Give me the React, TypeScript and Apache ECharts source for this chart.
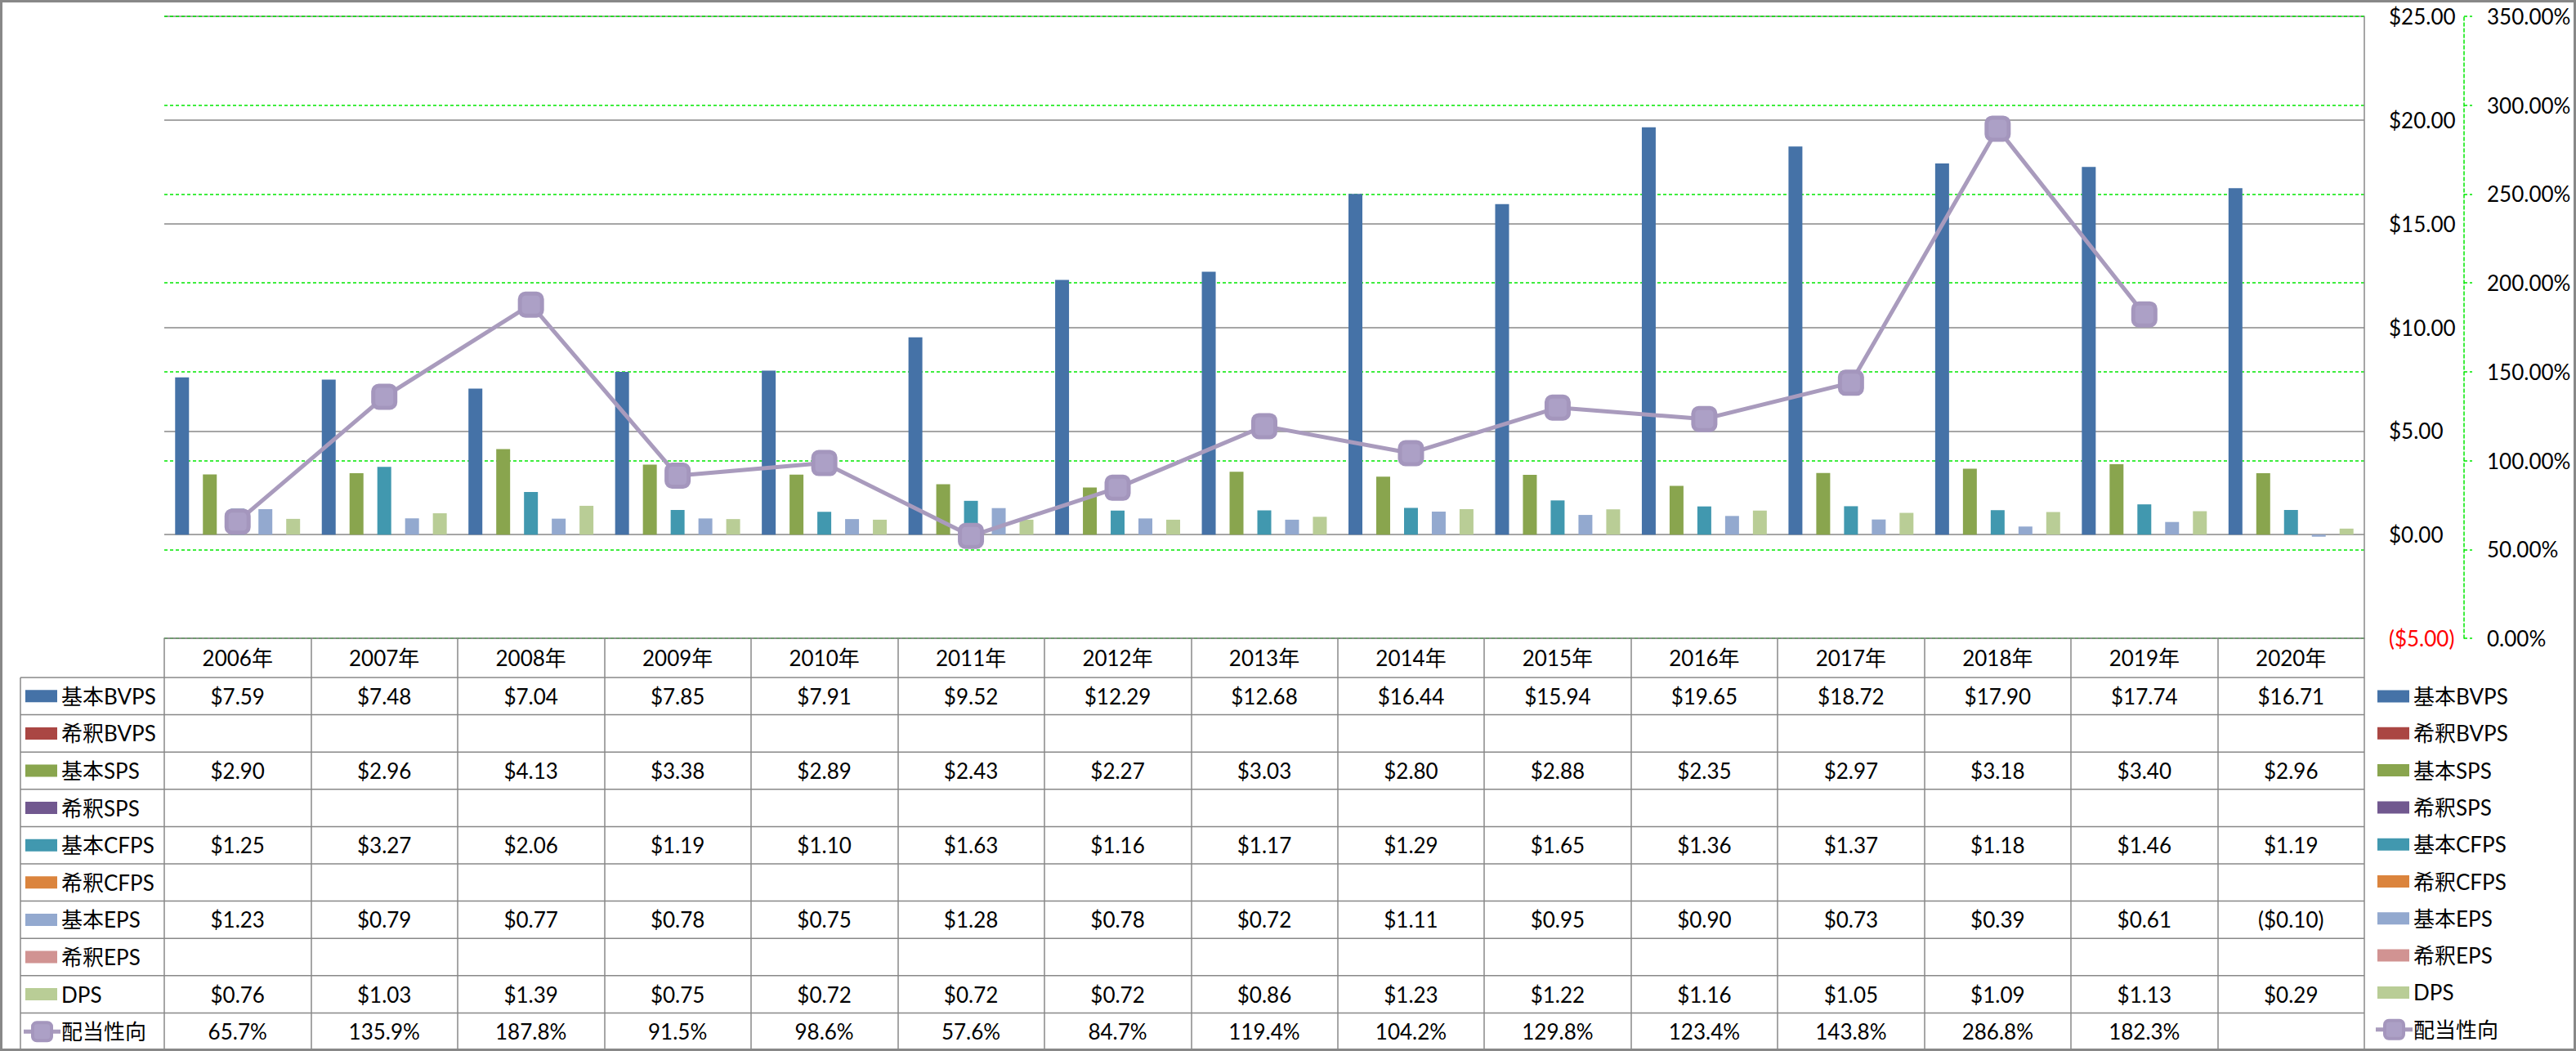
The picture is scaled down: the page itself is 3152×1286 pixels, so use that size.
import React, { useEffect, useRef } from "react";
import * as echarts from "echarts";

const years = ["2006年", "2007年", "2008年", "2009年", "2010年", "2011年", "2012年", "2013年", "2014年", "2015年", "2016年", "2017年", "2018年", "2019年", "2020年"];

const basicBVPS = [7.59, 7.48, 7.04, 7.85, 7.91, 9.52, 12.29, 12.68, 16.44, 15.94, 19.65, 18.72, 17.90, 17.74, 16.71];
const dilutedBVPS = [null, null, null, null, null, null, null, null, null, null, null, null, null, null, null];
const basicSPS = [2.90, 2.96, 4.13, 3.38, 2.89, 2.43, 2.27, 3.03, 2.80, 2.88, 2.35, 2.97, 3.18, 3.40, 2.96];
const dilutedSPS = [null, null, null, null, null, null, null, null, null, null, null, null, null, null, null];
const basicCFPS = [1.25, 3.27, 2.06, 1.19, 1.10, 1.63, 1.16, 1.17, 1.29, 1.65, 1.36, 1.37, 1.18, 1.46, 1.19];
const dilutedCFPS = [null, null, null, null, null, null, null, null, null, null, null, null, null, null, null];
const basicEPS = [1.23, 0.79, 0.77, 0.78, 0.75, 1.28, 0.78, 0.72, 1.11, 0.95, 0.90, 0.73, 0.39, 0.61, -0.10];
const dilutedEPS = [null, null, null, null, null, null, null, null, null, null, null, null, null, null, null];
const dps = [0.76, 1.03, 1.39, 0.75, 0.72, 0.72, 0.72, 0.86, 1.23, 1.22, 1.16, 1.05, 1.09, 1.13, 0.29];
const payoutRatio = [65.7, 135.9, 187.8, 91.5, 98.6, 57.6, 84.7, 119.4, 104.2, 129.8, 123.4, 143.8, 286.8, 182.3, null];

const barNames = ["基本BVPS", "希釈BVPS", "基本SPS", "希釈SPS", "基本CFPS", "希釈CFPS", "基本EPS", "希釈EPS", "DPS"];
const barData = [basicBVPS, dilutedBVPS, basicSPS, dilutedSPS, basicCFPS, dilutedCFPS, basicEPS, dilutedEPS, dps];
const barColors = ["#4572A7", "#AA4643", "#89A54E", "#71588F", "#4198AF", "#DB843D", "#93A9CF", "#D19392", "#B9CD96"];
const lineName = "配当性向";
const lineColor = "#A99BBD";

const W = 3152;
const H = 1286;
const FONT = "Lato, 'Noto Sans CJK JP', sans-serif";
const GRID_LEFT = 201;
const GRID_RIGHT = 2893;
const GRID_TOP = 20;
const GRID_BOTTOM = 781;
const HEADER_BOTTOM = 829;
const TABLE_BOTTOM = 1285;
const TABLE_LEFT = 25;
const GRAY = "#888888";
const GREEN = "#00E800";

function money(v: number | null): string {
  if (v === null || v === undefined) return "";
  const s = "$" + Math.abs(v).toFixed(2);
  return v < 0 ? "(" + s + ")" : s;
}
function pct(v: number | null): string {
  if (v === null || v === undefined) return "";
  return v.toFixed(1) + "%";
}

export default function App() {
  const ref = useRef<HTMLDivElement>(null);
  useEffect(() => {
    if (!ref.current) return;
    const chart = echarts.init(ref.current, null, { renderer: "svg" });
    const series: any[] = barNames.map((name, k) => ({
      name,
      type: "bar",
      data: barData[k],
      yAxisIndex: 0,
      barGap: "0%",
      barCategoryGap: "14.8%",
      itemStyle: { color: barColors[k] },
    }));
    series.push({
      name: lineName,
      type: "line",
      yAxisIndex: 1,
      data: payoutRatio,
      symbol: "roundRect",
      symbolSize: 27,
      lineStyle: { color: lineColor, width: 5 },
      itemStyle: { color: "#ACA0C6", borderColor: "#A496BD", borderWidth: 5 },
      z: 5,
    });
    chart.setOption({
      animation: false,
      backgroundColor: "#FFFFFF",
      grid: { left: GRID_LEFT, right: W - GRID_RIGHT, top: GRID_TOP, bottom: H - GRID_BOTTOM, containLabel: false },
      xAxis: {
        type: "category",
        data: years,
        boundaryGap: true,
        axisLine: { show: true, onZero: false, lineStyle: { color: GRAY, width: 1.5 } },
        axisTick: { show: true, interval: 0, length: TABLE_BOTTOM - GRID_BOTTOM, lineStyle: { color: GRAY, width: 1.5 } },
        axisLabel: { show: true, interval: 0, margin: 24, verticalAlign: "middle", fontSize: 26, fontFamily: FONT, color: "#000" },
        splitLine: { show: false },
      },
      yAxis: [
        {
          type: "value",
          position: "right",
          min: -5,
          max: 25,
          interval: 5,
          axisLine: { show: true, lineStyle: { color: GRAY, width: 1.5 } },
          axisTick: { show: false },
          splitLine: { show: true, lineStyle: { color: GRAY, width: 1.5 } },
          axisLabel: {
            margin: 30,
            fontSize: 26,
            fontFamily: FONT,
            color: "#000",
            formatter: (v: number) => (v < 0 ? "{neg|" + money(v) + "}" : money(v)),
            rich: { neg: { color: "#FF0000", fontSize: 26, fontFamily: FONT } },
          },
        },
        {
          type: "value",
          position: "right",
          offset: 122,
          min: 0,
          max: 350,
          interval: 50,
          axisLine: { show: true, lineStyle: { color: GREEN, width: 1.5, type: [4, 3] } },
          axisTick: { show: true, length: 10, lineStyle: { color: GREEN, width: 1.5, type: [4, 3] } },
          splitLine: { show: true, lineStyle: { color: GREEN, width: 1.5, type: [4, 3] } },
          axisLabel: {
            margin: 28,
            fontSize: 26,
            fontFamily: FONT,
            color: "#000",
            formatter: (v: number) => v.toFixed(2) + "%",
          },
        },
      ],
      series,
    });

    // Data table + legend built from the axis scale
    const rowNames = [...barNames, lineName];
    const rowData: (number | null)[][] = [...barData, payoutRatio];
    const rowColors = [...barColors, lineColor];
    const nRows = rowNames.length;
    const rowH = (TABLE_BOTTOM - HEADER_BOTTOM) / nRows;
    const elements: any[] = [];
    elements.push({ type: "rect", shape: { x: 1.5, y: 1.5, width: W - 3, height: H - 3 }, style: { fill: "none", stroke: GRAY, lineWidth: 3 }, z: 100 });
    elements.push({ type: "line", shape: { x1: TABLE_LEFT, y1: HEADER_BOTTOM, x2: TABLE_LEFT, y2: TABLE_BOTTOM }, style: { stroke: GRAY, lineWidth: 1.5 } });
    for (let r = 0; r <= nRows; r++) {
      const y = HEADER_BOTTOM + r * rowH;
      elements.push({ type: "line", shape: { x1: TABLE_LEFT, y1: y, x2: GRID_RIGHT, y2: y }, style: { stroke: GRAY, lineWidth: 1.5 } });
    }
    const drawKey = (x: number, cy: number, r: number) => {
      if (r === nRows - 1) {
        elements.push({ type: "line", shape: { x1: x - 2, y1: cy, x2: x + 43, y2: cy }, style: { stroke: lineColor, lineWidth: 5 } });
        elements.push({ type: "rect", shape: { x: x + 9, y: cy - 11, width: 23, height: 22, r: 5 }, style: { fill: "#ACA0C6", stroke: "#A496BD", lineWidth: 4 } });
      } else {
        elements.push({ type: "rect", shape: { x, y: cy - 7.5, width: 39, height: 15 }, style: { fill: rowColors[r] } });
      }
    };
    for (let r = 0; r < nRows; r++) {
      const cy = HEADER_BOTTOM + (r + 0.5) * rowH;
      drawKey(31, cy, r);
      elements.push({ type: "text", x: 75, y: cy, style: { text: rowNames[r], fontSize: 26, fontFamily: FONT, fill: "#000", align: "left", verticalAlign: "middle" } });
      for (let i = 0; i < years.length; i++) {
        const v = rowData[r][i];
        const txt = r === nRows - 1 ? pct(v) : money(v);
        if (!txt) continue;
        const px = chart.convertToPixel({ xAxisIndex: 0 }, i) as number;
        elements.push({ type: "text", x: px, y: cy, style: { text: txt, fontSize: 26, fontFamily: FONT, fill: "#000", align: "center", verticalAlign: "middle" } });
      }
      const ly = 852 + r * 45.3;
      drawKey(2909, ly, r);
      elements.push({ type: "text", x: 2953, y: ly, style: { text: rowNames[r], fontSize: 26, fontFamily: FONT, fill: "#000", align: "left", verticalAlign: "middle" } });
    }
    chart.setOption({ graphic: { elements } });
    return () => chart.dispose();
  }, []);
  return <div ref={ref} style={{ position: "fixed", left: 0, top: 0, width: W, height: H, background: "#fff" }} />;
}
